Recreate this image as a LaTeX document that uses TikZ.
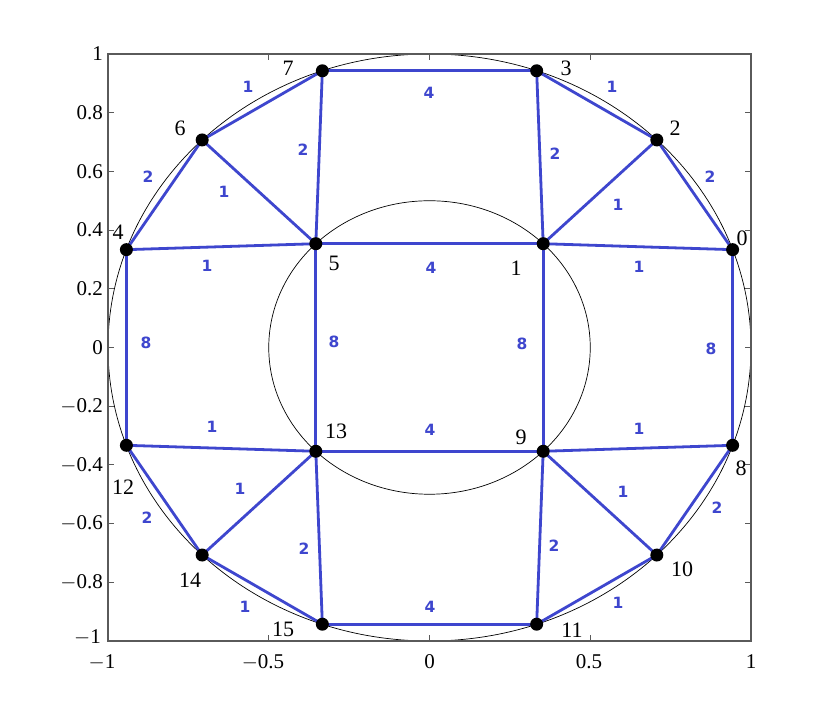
\documentclass[tikz,border=0pt]{standalone}
\usepackage{fontspec}
\setmainfont{Liberation Serif}
\newfontfamily\lblfont{DejaVu Sans}
\definecolor{edgeblue}{RGB}{62,70,206}
\definecolor{axgray}{RGB}{90,90,90}
\begin{document}
\begin{tikzpicture}[x=1pt,y=1pt,
  edge/.style={draw=edgeblue, line width=2.8pt},
  dot/.style={circle, fill=black, inner sep=0pt, minimum size=13pt},
  elab/.style={text=edgeblue, font=\lblfont\bfseries\fontsize{15.5}{15.5}\selectfont, inner sep=0pt},
  nlab/.style={font=\fontsize{22}{22}\selectfont, inner sep=0pt},
  tlab/.style={font=\fontsize{21}{21}\selectfont, inner sep=0pt},
  thincirc/.style={draw=black, line width=0.7pt},
  axbox/.style={draw=axgray, line width=1.1pt}]
\useasboundingbox (0,0) rectangle (830,722);
\fill[white] (0,0) rectangle (830,722);
\begin{scope}[shift={(429.5pt,374.5pt)}, x=321.5pt, y=293.5pt]
  % circles
  \draw[thincirc] (0,0) ellipse [x radius=321.5pt, y radius=293.5pt];
  \draw[thincirc] (0,0) ellipse [x radius=160.75pt, y radius=146.75pt];
  % axes box and ticks
  \draw[axbox] (-1,-1) rectangle (1,1);
  \foreach \v in {-1,-0.5,0,0.5,1} {
    \draw[axbox] (\v,-1) -- ++(0,6pt);
    \draw[axbox] (\v,1) -- ++(0,-6pt);
  }
  \foreach \v in {-1,-0.8,-0.6,-0.4,-0.2,0,0.2,0.4,0.6,0.8,1} {
    \draw[axbox] (-1,\v) -- ++(6pt,0);
    \draw[axbox] (1,\v) -- ++(-6pt,0);
  }
  % vertices
  \coordinate (p0) at (0.9428,0.3333);
  \coordinate (p1) at (0.3536,0.3536);
  \coordinate (p2) at (0.7071,0.7071);
  \coordinate (p3) at (0.3333,0.9428);
  \coordinate (p4) at (-0.9428,0.3333);
  \coordinate (p5) at (-0.3536,0.3536);
  \coordinate (p6) at (-0.7071,0.7071);
  \coordinate (p7) at (-0.3333,0.9428);
  \coordinate (p8) at (0.9428,-0.3333);
  \coordinate (p9) at (0.3536,-0.3536);
  \coordinate (p10) at (0.7071,-0.7071);
  \coordinate (p11) at (0.3333,-0.9428);
  \coordinate (p12) at (-0.9428,-0.3333);
  \coordinate (p13) at (-0.3536,-0.3536);
  \coordinate (p14) at (-0.7071,-0.7071);
  \coordinate (p15) at (-0.3333,-0.9428);
  % edges
  \foreach \a/\b in {7/3,3/2,2/0,0/8,8/10,10/11,11/15,15/14,14/12,12/4,4/6,6/7,
                     7/5,3/1,6/5,2/1,4/5,1/0,5/1,5/13,1/9,13/9,12/13,9/8,13/14,9/10,13/15,9/11}
    \draw[edge] (p\a) -- (p\b);
  \foreach \i in {0,...,15}
    \node[dot] (n\i) at (p\i) {};
\end{scope}
% edge weights
\node[elab] (w76) at (248,635) {1};
\node[elab] (w73) at (429,629) {4};
\node[elab] (w32) at (612,635) {1};
\node[elab] (w75) at (303,572) {2};
\node[elab] (w31) at (555,568) {2};
\node[elab] (w64) at (148,545) {2};
\node[elab] (w65) at (224,530) {1};
\node[elab] (w21) at (618,517) {1};
\node[elab] (w20) at (710,545) {2};
\node[elab] (w45) at (207,456) {1};
\node[elab] (w51) at (431,454) {4};
\node[elab] (w10) at (639,455) {1};
\node[elab] (w412) at (146,379) {8};
\node[elab] (w513) at (334,380) {8};
\node[elab] (w19) at (522,378) {8};
\node[elab] (w08) at (711,373) {8};
\node[elab] (w1213) at (212,295) {1};
\node[elab] (w139) at (430,292) {4};
\node[elab] (w98) at (639,293) {1};
\node[elab] (w1314) at (240,233) {1};
\node[elab] (w910) at (623,230) {1};
\node[elab] (w1214) at (147,204) {2};
\node[elab] (w1315) at (304,173) {2};
\node[elab] (w911) at (554,176) {2};
\node[elab] (w810) at (717,214) {2};
\node[elab] (w1415) at (245,115) {1};
\node[elab] (w1511) at (430,115) {4};
\node[elab] (w1011) at (618,119) {1};
% vertex numbers
\node[nlab] (t0) at (742,484) {0};
\node[nlab] (t1) at (516,454) {1};
\node[nlab] (t2) at (675,594) {2};
\node[nlab] (t3) at (566,654) {3};
\node[nlab] (t4) at (118,490) {4};
\node[nlab] (t5) at (334,459) {5};
\node[nlab] (t6) at (180,594) {6};
\node[nlab] (t7) at (288,654) {7};
\node[nlab] (t8) at (741,254) {8};
\node[nlab] (t9) at (521,285) {9};
\node[nlab] (t10) at (682,153) {10};
\node[nlab] (t11) at (572,92) {11};
\node[nlab] (t12) at (123,235) {12};
\node[nlab] (t13) at (336,291) {13};
\node[nlab] (t14) at (190,142) {14};
\node[nlab] (t15) at (283,93) {15};
% tick labels
\foreach \v/\s/\n in {1/1/a,0.8/0.8/b,0.6/0.6/c,0.4/0.4/d,0.2/0.2/e,0/0/f,
                      -0.2/$-$0.2/g,-0.4/$-$0.4/h,-0.6/$-$0.6/i,-0.8/$-$0.8/j}
  \node[tlab, anchor=east] (yt\n) at (103,{374.5+\v*293.5}) {\s};
\node[tlab, anchor=east] (ytk) at (101,85) {$-$1};
\foreach \x/\s/\n in {102/$-$1/a,263/$-$0.5/b,429.5/0/c,589/0.5/d,751/1/e}
  \node[tlab] (xt\n) at (\x,60) {\s};
\end{tikzpicture}
\end{document}
